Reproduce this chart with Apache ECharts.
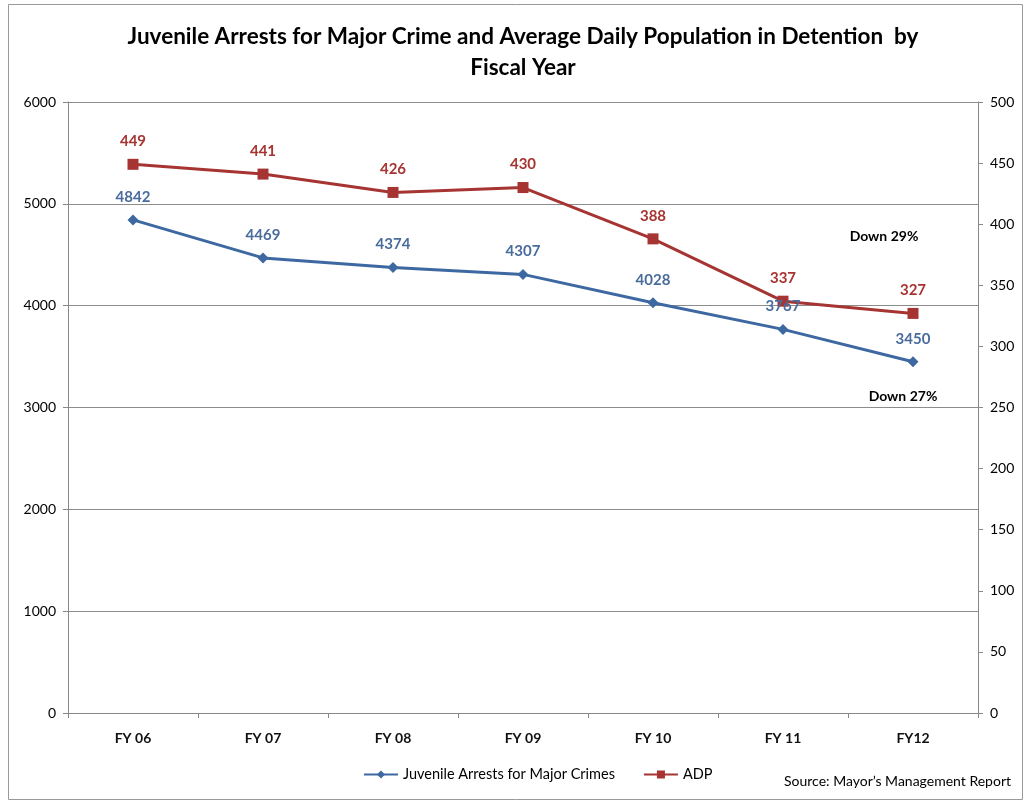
<!DOCTYPE html>
<html><head><meta charset="utf-8">
<script src="https://cdn.jsdelivr.net/npm/echarts@6/dist/echarts.min.js"></script>
<style>html,body{margin:0;padding:0;background:#fff}#c{width:1023px;height:800px}</style>
</head><body><div id="c"></div>
<script>
const categories = ['FY 06','FY 07','FY 08','FY 09','FY 10','FY 11','FY12'];
const arrests = [4842, 4469, 4374, 4307, 4028, 3767, 3450];
const adp = [449, 441, 426, 430, 388, 337, 327];
const leftTicks = {min: 0, max: 6000, interval: 1000};
const rightTicks = {min: 0, max: 500, interval: 50};
const FONT = 'Lato, "Open Sans", sans-serif';
const chart = echarts.init(document.getElementById('c'));
chart.setOption({
  animation: false,
  textStyle: {fontFamily: FONT},
  title: {
    text: 'Juvenile Arrests for Major Crime and Average Daily Population in Detention  by\nFiscal Year',
    left: 518, top: 16, textAlign: 'center',
    textStyle: {fontFamily: FONT, fontSize: 22.5, fontWeight: 'bold', color: '#000', lineHeight: 31}
  },
  grid: {left: 68, right: 45, top: 102, bottom: 87},
  legend: {
    bottom: 13, left: 358,
    itemWidth: 34, itemHeight: 10, itemGap: 28,
    textStyle: {fontFamily: FONT, fontSize: 14.5, color: '#000'},
    data: ['Juvenile Arrests for Major Crimes', 'ADP']
  },
  xAxis: {
    type: 'category', data: categories, boundaryGap: true,
    axisLine: {lineStyle: {color: '#888'}},
    axisTick: {show: true, length: 5, lineStyle: {color: '#888'}},
    axisLabel: {fontFamily: FONT, fontSize: 14, fontWeight: 'bold', color: '#111', margin: 18}
  },
  yAxis: [
    {type: 'value', min: leftTicks.min, max: leftTicks.max, interval: leftTicks.interval,
     axisLine: {show: true, lineStyle: {color: '#888'}},
     axisTick: {show: true, length: 5, lineStyle: {color: '#888'}},
     axisLabel: {fontFamily: FONT, fontSize: 14, color: '#000', margin: 12, formatter: v => String(v)},
     splitLine: {show: true, lineStyle: {color: '#8c8c8c', width: 1}}},
    {type: 'value', min: rightTicks.min, max: rightTicks.max, interval: rightTicks.interval, position: 'right',
     axisLine: {show: true, lineStyle: {color: '#888'}},
     axisTick: {show: true, length: 5, lineStyle: {color: '#888'}},
     axisLabel: {fontFamily: FONT, fontSize: 14, color: '#000', margin: 12, formatter: v => String(v)},
     splitLine: {show: false}}
  ],
  series: [
    {name: 'Juvenile Arrests for Major Crimes', type: 'line', yAxisIndex: 0, data: arrests,
     symbol: 'diamond', symbolSize: 11,
     itemStyle: {color: '#3D68A1'}, lineStyle: {color: '#3D68A1', width: 3},
     label: {show: true, position: 'top', distance: 10, fontFamily: FONT, fontSize: 15, fontWeight: 'bold', color: '#4A6C9C'}},
    {name: 'ADP', type: 'line', yAxisIndex: 1, data: adp,
     symbol: 'rect', symbolSize: 11,
     itemStyle: {color: '#A63432'}, lineStyle: {color: '#A63432', width: 3},
     label: {show: true, position: 'top', distance: 10, fontFamily: FONT, fontSize: 15, fontWeight: 'bold', color: '#A63432'}}
  ],
  graphic: [
    {type: 'rect', left: 6, top: 2, shape: {width: 1014, height: 795}, style: {fill: 'none', stroke: '#999', lineWidth: 1}, silent: true},
    {type: 'text', x: 884, y: 236, style: {text: 'Down 29%', font: 'bold 14px ' + FONT, fill: '#000', textAlign: 'center', textVerticalAlign: 'middle'}},
    {type: 'text', x: 903, y: 396, style: {text: 'Down 27%', font: 'bold 14px ' + FONT, fill: '#000', textAlign: 'center', textVerticalAlign: 'middle'}},
    {type: 'text', x: 1011, y: 781, style: {text: 'Source: Mayor\u2019s Management Report', font: '14px ' + FONT, fill: '#000', textAlign: 'right', textVerticalAlign: 'middle'}}
  ]
});
</script></body></html>
